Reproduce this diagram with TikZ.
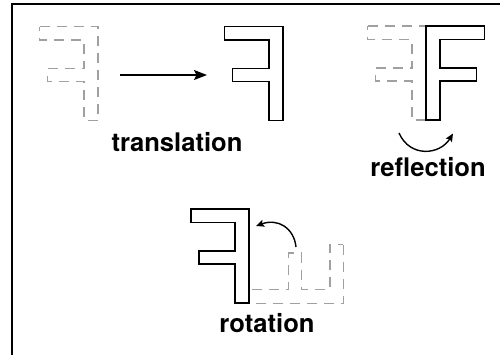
\documentclass[tikz,border=0pt]{standalone}
\usepackage{fontspec}
\setmainfont{TeX Gyre Heros}
\usetikzlibrary{arrows.meta}
\definecolor{dashgray}{RGB}{160,160,160}
\tikzset{
  solidF/.style={draw=black, line width=1.8pt, line join=miter},
  dashF/.style={draw=dashgray, line width=1.6pt, dash pattern=on 10pt off 7pt},
  frame/.style={draw=black, line width=2.6pt},
  bigarrow/.style={draw=black, line width=1.5pt, -{Stealth[length=13pt,width=10pt,inset=2.5pt]}},
  curvearrow/.style={draw=black, line width=1.4pt, -{Stealth[length=8pt,width=7pt,inset=1.5pt]}},
  lbl/.style={font=\fontsize{25.6}{30}\selectfont\bfseries, inner sep=0pt, anchor=base},
  mirF/.pic={\path[pic actions] (-58.5,0) -- (0,0) -- (0,94) -- (-14,94) -- (-14,55) -- (-50.5,55) -- (-50.5,42) -- (-14,42) -- (-14,13.5) -- (-58.5,13.5) -- cycle;}
}
\begin{document}
\begin{tikzpicture}[x=1pt,y=-1pt]
\useasboundingbox (0,0) rectangle (500,354);
% frame
\draw[frame] (12,370) -- (12,4) -- (515,4);
% translation
\pic[dashF] at (98,26.5) {mirF};
\pic[solidF] at (283,26.5) {mirF};
\coordinate (t1) at (120,75);
\coordinate (t2) at (207,75);
\draw[bigarrow] (t1) -- (t2);
\node[lbl] (ltrans) at (177,151.5) {translation};
% reflection
\pic[dashF] at (426,26) {mirF};
\pic[solidF, xscale=-1] at (426,26) {mirF};
\coordinate (r1) at (399,133);
\coordinate (r2) at (453,133.5);
\draw[curvearrow] (r1) .. controls (410,158) and (440,155) .. (r2);
\node[lbl] (lrefl) at (428,176.5) {reflection};
% rotation
\draw[dashF] (343.3,244.5) -- (343.3,303.5) -- (249.3,303.5) -- (249.3,289.5) -- (288.3,289.5) -- (288.3,253) -- (301.3,253) -- (301.3,289.5) -- (329.8,289.5) -- (329.8,244.5) -- cycle;
\pic[solidF] at (249.3,209) {mirF};
\coordinate (q1) at (296,247);
\coordinate (q2) at (256,226);
\draw[curvearrow] (q1) .. controls (294,228) and (278,218) .. (q2);
\node[lbl] (lrot) at (267,332.5) {rotation};
\end{tikzpicture}
\end{document}
